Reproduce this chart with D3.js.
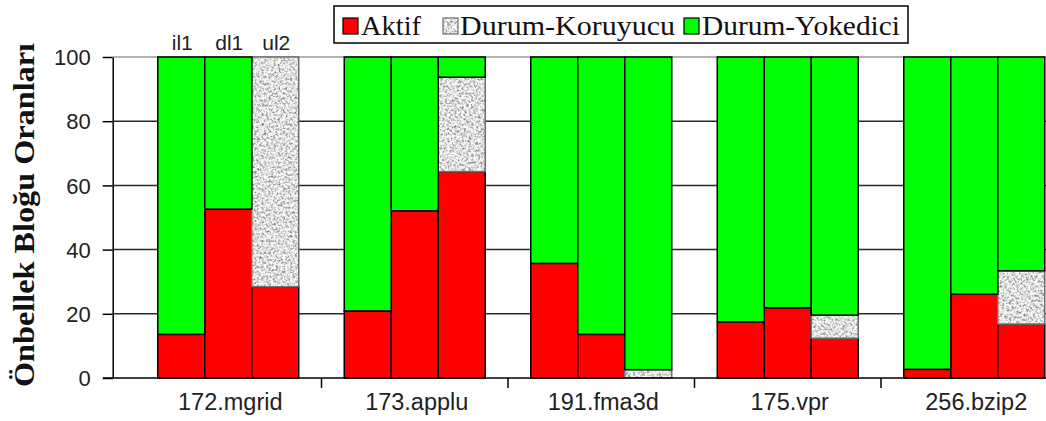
<!DOCTYPE html>
<html>
<head>
<meta charset="utf-8">
<script src="https://cdn.jsdelivr.net/npm/d3@7/dist/d3.min.js"></script>
<style>
  html, body { margin: 0; padding: 0; background: #fff; }
  svg { display: block; }
</style>
</head>
<body>
<svg id="chart" width="1046" height="421"></svg>
<script>
// Benchmarks and cache levels
const categories = ["172.mgrid", "173.applu", "191.fma3d", "175.vpr", "256.bzip2"];
const caches = ["il1", "dl1", "ul2"];
const seriesNames = ["Aktif", "Durum-Koruyucu", "Durum-Yokedici"];

// Share of cache blocks (%) per benchmark, one entry per cache level (il1, dl1, ul2)
const aktif      = [[13.6, 52.6, 28.4], [20.9, 52.1, 64.3], [35.7, 13.6, 0.0], [17.5, 21.9, 12.4], [2.7, 26.1, 16.8]];
const koruyucu   = [[0.0, 0.0, 71.6],   [0.0, 0.0, 29.4],   [0.0, 0.0, 2.6],   [0.0, 0.0, 7.2],   [0.0, 0.0, 16.6]];
const yokedici   = [[86.4, 47.4, 0.0],  [79.1, 47.9, 6.3],  [64.3, 86.4, 97.4],[82.5, 78.1, 80.4],[97.3, 73.9, 66.6]];

const yTicks = [0, 20, 40, 60, 80, 100];

const svg = d3.select("#chart");
const defs = svg.append("defs");

// Speckled fill used for the "Durum-Koruyucu" segments
const f = defs.append("filter").attr("id", "speckle")
  .attr("x", 0).attr("y", 0).attr("width", 1).attr("height", 1);
f.append("feTurbulence").attr("type", "fractalNoise").attr("baseFrequency", 0.42)
  .attr("numOctaves", 3).attr("seed", 7).attr("result", "noise");
f.append("feColorMatrix").attr("in", "noise").attr("type", "matrix")
  .attr("values", "1 0 0 0 0  1 0 0 0 0  1 0 0 0 0  0 0 0 0 1").attr("result", "gray");
const ct = f.append("feComponentTransfer").attr("in", "gray").attr("result", "steps");
["feFuncR", "feFuncG", "feFuncB"].forEach(fn =>
  ct.append(fn).attr("type", "discrete").attr("tableValues", "0.15 0.25 0.4 0.62 0.85 0.97 1 1"));
f.append("feComposite").attr("in", "steps").attr("in2", "SourceGraphic").attr("operator", "in");

const colors = { "Aktif": "#ff0000", "Durum-Yokedici": "#00ff00" };

// Scales
const y = d3.scaleLinear().domain([0, 100]).range([378, 57]);
const x0 = d3.scaleBand().domain(categories).range([135, 135 + 5 * 186.5])
  .paddingInner(0.244).paddingOuter(0.122);
const x1 = d3.scaleBand().domain(caches).range([0, x0.bandwidth()]).padding(0);

const axisX = 112.7;
const rightEdge = 1075;

// Horizontal grid lines
svg.append("g").selectAll("line").data(yTicks.filter(t => t > 0)).join("line")
  .attr("x1", axisX).attr("x2", rightEdge)
  .attr("y1", d => y(d)).attr("y2", d => y(d))
  .attr("stroke", d => d === 100 ? "#9a9a9a" : "#2a2a2a")
  .attr("stroke-width", 1.5);

// Stacked rows
const rows = [];
categories.forEach((c, i) => caches.forEach((k, j) => {
  rows.push({ cat: c, cache: k, "Aktif": aktif[i][j], "Durum-Koruyucu": koruyucu[i][j], "Durum-Yokedici": yokedici[i][j] });
}));
const stacked = d3.stack().keys(seriesNames)(rows);

const barsG = svg.append("g");
stacked.forEach(layer => {
  const segs = layer.filter(d => d[1] - d[0] > 0.01);
  const g = barsG.append("g");
  const sx = d => x0(d.data.cat) + x1(d.data.cache);
  if (layer.key === "Durum-Koruyucu") {
    g.selectAll("rect.fill").data(segs).join("rect").attr("class", "fill")
      .attr("x", sx).attr("width", x1.bandwidth())
      .attr("y", d => y(d[1])).attr("height", d => y(d[0]) - y(d[1]))
      .attr("fill", "#fff").attr("filter", "url(#speckle)");
    g.selectAll("rect.edge").data(segs).join("rect").attr("class", "edge")
      .attr("x", sx).attr("width", x1.bandwidth())
      .attr("y", d => y(d[1])).attr("height", d => y(d[0]) - y(d[1]))
      .attr("fill", "none").attr("stroke", "#6e6e6e").attr("stroke-width", 1.5);
  } else {
    g.selectAll("rect").data(segs).join("rect")
      .attr("x", sx).attr("width", x1.bandwidth())
      .attr("y", d => y(d[1])).attr("height", d => y(d[0]) - y(d[1]))
      .attr("fill", colors[layer.key]).attr("stroke", "#000").attr("stroke-width", 1.5);
  }
});

// Y axis
const yAxis = d3.axisLeft(y).tickValues(yTicks).tickSize(10).tickSizeOuter(0).tickPadding(12);
const yg = svg.append("g").attr("transform", `translate(${axisX},0)`).call(yAxis);
yg.select(".domain").attr("stroke", "#000").attr("stroke-width", 1.5);
yg.selectAll(".tick line").attr("stroke", "#000").attr("stroke-width", 1.5);
yg.selectAll(".tick text")
  .attr("font-family", "Arial, 'Liberation Sans', sans-serif").attr("font-size", 22)
  .attr("fill", "#222").attr("dy", "0.35em");

// X axis line with separators between benchmark groups
svg.append("line").attr("x1", 103).attr("x2", rightEdge).attr("y1", y(0)).attr("y2", y(0))
  .attr("stroke", "#000").attr("stroke-width", 1.5);
const seps = categories.slice(1).map(c => x0(c) - x0.step() * x0.paddingInner() / 2);
svg.append("g").selectAll("line").data(seps).join("line")
  .attr("x1", d => d).attr("x2", d => d).attr("y1", y(0)).attr("y2", y(0) + 10)
  .attr("stroke", "#000").attr("stroke-width", 1.5);

svg.append("g").selectAll("text").data(categories).join("text")
  .attr("x", d => x0(d) + x0.bandwidth() / 2 + 2).attr("y", 410)
  .attr("text-anchor", "middle")
  .attr("font-family", "Arial, 'Liberation Sans', sans-serif").attr("font-size", 23.5)
  .attr("fill", "#222").text(d => d);

// Cache level labels over the first group
svg.append("g").selectAll("text").data(caches).join("text")
  .attr("x", d => x0(categories[0]) + x1(d) + x1.bandwidth() / 2 + 1).attr("y", 50)
  .attr("text-anchor", "middle")
  .attr("font-family", "Arial, 'Liberation Sans', sans-serif").attr("font-size", 21)
  .attr("fill", "#222").text(d => d);

// Y axis title
svg.append("text")
  .attr("transform", "translate(34,215) rotate(-90)")
  .attr("text-anchor", "middle")
  .attr("font-family", "'Liberation Serif', 'Times New Roman', serif")
  .attr("font-weight", "bold").attr("font-size", 29)
  .attr("textLength", 344).attr("lengthAdjust", "spacingAndGlyphs")
  .attr("fill", "#111")
  .text("Önbellek Bloğu Oranları");

// Legend
const lg = svg.append("g");
lg.append("rect").attr("x", 334).attr("y", 6).attr("width", 574).attr("height", 37)
  .attr("fill", "#fff").attr("stroke", "#000").attr("stroke-width", 1.5);
const legendItems = [
  { name: "Aktif", sx: 343, tx: 361, len: 60 },
  { name: "Durum-Koruyucu", sx: 443, tx: 460, len: 215 },
  { name: "Durum-Yokedici", sx: 684, tx: 702, len: 198 }
];
legendItems.forEach(it => {
  if (it.name === "Durum-Koruyucu") {
    lg.append("rect").attr("x", it.sx).attr("y", 18).attr("width", 15).attr("height", 16)
      .attr("fill", "#fff").attr("filter", "url(#speckle)");
    lg.append("rect").attr("x", it.sx).attr("y", 18).attr("width", 15).attr("height", 16)
      .attr("fill", "none").attr("stroke", "#6e6e6e").attr("stroke-width", 1.2);
  } else {
    lg.append("rect").attr("x", it.sx).attr("y", 18).attr("width", 15).attr("height", 16)
      .attr("fill", colors[it.name]).attr("stroke", "#000").attr("stroke-width", 1.2);
  }
  lg.append("text").attr("x", it.tx).attr("y", 35)
    .attr("font-family", "'Liberation Serif', 'Times New Roman', serif").attr("font-size", 28)
    .attr("textLength", it.len).attr("lengthAdjust", "spacingAndGlyphs")
    .attr("fill", "#111").text(it.name);
});
</script>
</body>
</html>
